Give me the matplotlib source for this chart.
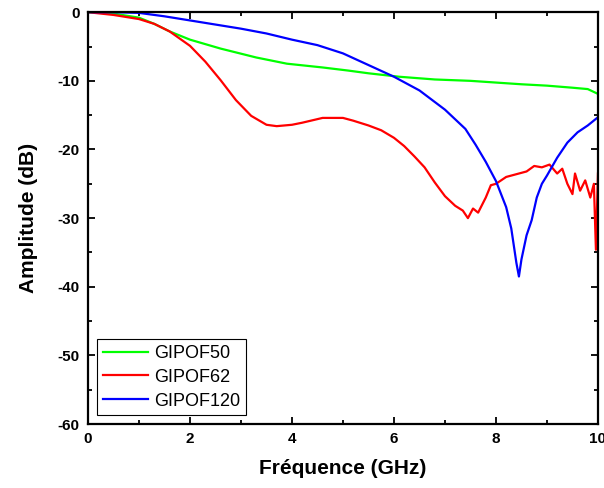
import matplotlib
matplotlib.use("Agg")
import matplotlib.pyplot as plt
from matplotlib.ticker import MultipleLocator

plt.rcParams['font.family'] = ['Liberation Sans', 'DejaVu Sans']
plt.rcParams['axes.unicode_minus'] = False

green_f = [0, 0.5, 1, 1.3, 1.6, 2, 2.6, 3.3, 3.9, 4.6, 5.1, 5.5, 6.1, 6.8, 7.5, 8, 8.5, 9,
           9.5, 9.8, 10]
green_db = [0, -0.2, -0.8, -1.7, -2.8, -4.0, -5.3, -6.6, -7.5, -8.05, -8.5, -8.9, -9.4,
            -9.8, -10.0, -10.25, -10.5, -10.7, -11.0, -11.2, -11.9]

red_f = [0, 0.5, 1, 1.3, 1.6, 2, 2.3, 2.6, 2.9, 3.2, 3.5, 3.7, 4, 4.2, 4.6, 5, 5.2, 5.5,
         5.75, 6, 6.2, 6.4, 6.6, 6.8, 7.0, 7.2, 7.35, 7.45, 7.55, 7.65, 7.8, 7.9, 8.0, 8.2,
         8.4, 8.6, 8.75, 8.9, 9.05, 9.2, 9.3, 9.4, 9.5, 9.55, 9.65, 9.75, 9.85, 9.92, 9.96, 10]
red_db = [0, -0.4, -1.0, -1.7, -2.8, -4.9, -7.2, -9.9, -12.8, -15.1, -16.4, -16.6, -16.4,
          -16.1, -15.4, -15.4, -15.8, -16.5, -17.2, -18.3, -19.5, -21.0, -22.6, -24.8,
          -26.8, -28.2, -28.9, -30.0, -28.6, -29.2, -27.0, -25.2, -25.0, -24.0, -23.6,
          -23.2, -22.4, -22.6, -22.2, -23.5, -22.8, -25.0, -26.5, -23.5, -26.0, -24.5,
          -27.0, -25.0, -34.6, -23.5]

blue_f = [0, 0.5, 1, 1.5, 2, 2.5, 3, 3.5, 4, 4.5, 5, 5.5, 6, 6.5, 7, 7.2, 7.4, 7.6, 7.8,
          8.0, 8.1, 8.2, 8.3, 8.4, 8.45, 8.5, 8.6, 8.7, 8.8, 8.9, 9.0, 9.2, 9.4, 9.6, 9.8, 10]
blue_db = [0, 0, -0.1, -0.6, -1.2, -1.8, -2.4, -3.1, -4.0, -4.8, -6.0, -7.7, -9.4, -11.4,
           -14.2, -15.6, -17.0, -19.3, -21.8, -24.6, -26.5, -28.4, -31.5, -36.5, -38.5,
           -36.0, -32.5, -30.3, -27.0, -25.0, -23.8, -21.2, -19.0, -17.5, -16.5, -15.3]

fig = plt.figure(figsize=(6.04, 4.88), dpi=100)
ax = fig.add_axes([0.1457, 0.131, 0.8443, 0.844])

ax.plot(green_f, green_db, color='#00ff00', lw=1.6, label='GIPOF50')
ax.plot(red_f, red_db, color='#ff0000', lw=1.6, label='GIPOF62')
ax.plot(blue_f, blue_db, color='#0000ff', lw=1.6, label='GIPOF120')

ax.set_xlim(0, 10)
ax.set_ylim(-60, 0)
ax.xaxis.set_major_locator(MultipleLocator(2))
ax.xaxis.set_minor_locator(MultipleLocator(1))
ax.yaxis.set_major_locator(MultipleLocator(10))
ax.yaxis.set_minor_locator(MultipleLocator(5))
ax.tick_params(which='both', direction='in', top=True, right=True, width=1.3)
ax.tick_params(which='major', length=5, labelsize=11, pad=6)
ax.tick_params(which='minor', length=3)
for lab in ax.get_xticklabels() + ax.get_yticklabels():
    lab.set_fontweight('bold')
for s in ax.spines.values():
    s.set_linewidth(1.6)

ax.set_xlabel('Fréquence (GHz)', fontsize=15, fontweight='bold', labelpad=9)
ax.set_ylabel('Amplitude (dB)', fontsize=15, fontweight='bold', labelpad=14)

leg = ax.legend(loc='lower left', bbox_to_anchor=(0.018, 0.022), fontsize=13,
                fancybox=False, edgecolor='black', framealpha=1, handlelength=2.5,
                borderpad=0.3, labelspacing=0.38, handletextpad=0.35, borderaxespad=0)
leg.get_frame().set_linewidth(0.8)

fig.savefig('out.png', dpi=100)
